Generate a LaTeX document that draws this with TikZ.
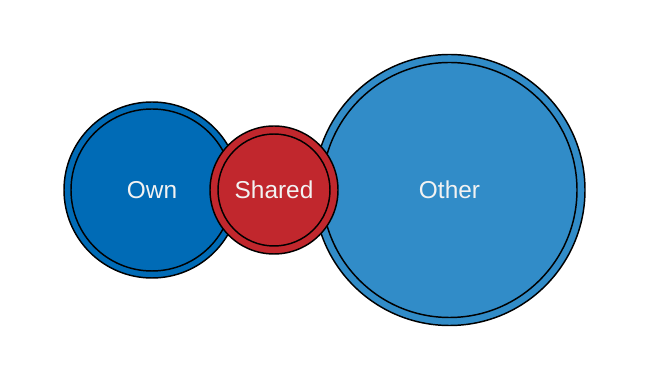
\documentclass[tikz,border=0pt]{standalone}
\usepackage{fontspec}
\setmainfont{Liberation Sans}

\definecolor{ownblue}{RGB}{0,107,182}
\definecolor{sharedred}{RGB}{193,39,45}
\definecolor{otherblue}{RGB}{49,140,200}
\definecolor{labelwhite}{RGB}{242,242,242}

\tikzset{every picture/.style={line width=0.75pt}}
\tikzset{
  setcircle/.style={circle, draw=black, line width=1.1pt, inner sep=0pt,
    text=labelwhite, font=\fontsize{18.3}{21}\selectfont},
  ring/.style={draw=black, line width=1.1pt}
}

\begin{document}
\begin{tikzpicture}[x=0.75pt,y=0.75pt,yscale=-1,xscale=1]
\useasboundingbox (0,0) rectangle (650,373);

%Shape: Circle, left set
\node [setcircle, fill=ownblue, minimum size=132pt] (own) at (152,190) {Own};
\draw [ring] (own.center) circle (81);

%Shape: Circle, right set
\node [setcircle, fill=otherblue, minimum size=203.25pt] (other) at (449.5,190) {Other};
\draw [ring] (other.center) circle (127.5);

%Shape: Circle, overlap (drawn last, on top)
\node [setcircle, fill=sharedred, minimum size=96pt] (shared) at (274,190) {Shared};
\draw [ring] (shared.center) circle (56);

\end{tikzpicture}
\end{document}
